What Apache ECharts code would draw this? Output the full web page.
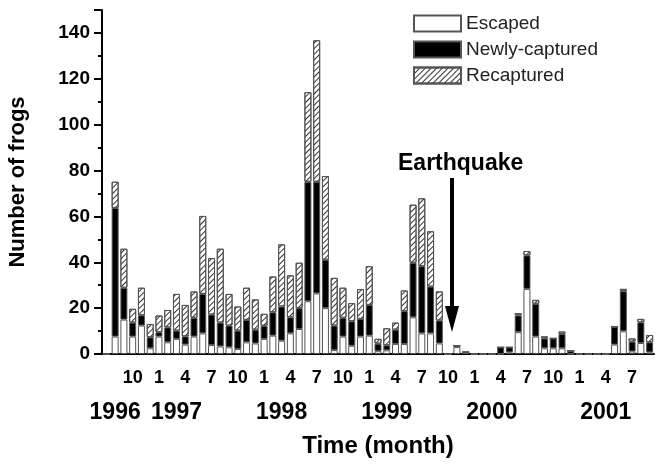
<!DOCTYPE html>
<html>
<head>
<meta charset="utf-8">
<script src="https://cdn.jsdelivr.net/npm/echarts@6/dist/echarts.min.js"></script>
<style>
  html, body { margin: 0; padding: 0; background: #fff; }
  #chart { width: 663px; height: 465px; }
</style>
</head>
<body>
<div id="chart"></div>
<script>
// one category per month, Jul 1996 .. Sep 2001
const months = [
  '1996-07', '1996-08', '1996-09', '1996-10', '1996-11', '1996-12',
  '1997-01', '1997-02', '1997-03', '1997-04', '1997-05', '1997-06',
  '1997-07', '1997-08', '1997-09', '1997-10', '1997-11', '1997-12',
  '1998-01', '1998-02', '1998-03', '1998-04', '1998-05', '1998-06',
  '1998-07', '1998-08', '1998-09', '1998-10', '1998-11', '1998-12',
  '1999-01', '1999-02', '1999-03', '1999-04', '1999-05', '1999-06',
  '1999-07', '1999-08', '1999-09', '1999-10', '1999-11', '1999-12',
  '2000-01', '2000-02', '2000-03', '2000-04', '2000-05', '2000-06',
  '2000-07', '2000-08', '2000-09', '2000-10', '2000-11', '2000-12',
  '2001-01', '2001-02', '2001-03', '2001-04', '2001-05', '2001-06',
  '2001-07', '2001-08', '2001-09'
]

const escaped = [
  0, 7.6, 15, 7.6, 12.4, 2.5,
  7.6, 5.1, 6.6, 4.1, 7.6, 9.0,
  3.9, 3.3, 2.9, 2.2, 5.1, 4.6,
  6.6, 8.0, 5.8, 9.0, 10.9, 23.0,
  26.4, 20.0, 1.7, 7.6, 3.6, 7.6,
  8.0, 1.2, 1.6, 4.4, 4.4, 16.0,
  9.0, 9.0, 4.6, 0, 3.0, 0.8,
  0, 0, 0, 0, 0.7, 9.5,
  28.4, 7.6, 2.5, 2.5, 2.5, 0,
  0, 0, 0, 0, 4.1, 9.9,
  1.1, 4.8, 0.7
]

const newlyCaptured = [
  0, 56.1, 13.9, 6.1, 4.5, 4.8,
  1.9, 6.5, 3.6, 3.6, 8.2, 17.2,
  13.3, 10.4, 9.5, 8.0, 9.8, 6.0,
  5.7, 10.2, 14.9, 7.0, 9.1, 52.1,
  48.7, 21.1, 10.7, 8.2, 10.7, 7.7,
  13.4, 3.3, 2.2, 6.2, 14.3, 23.8,
  29.3, 20.4, 10.0, 0, 0.6, 0,
  0, 0, 0, 2.9, 2.2, 7.3,
  14.6, 14.3, 4.3, 4.3, 6.2, 1.4,
  0, 0, 0, 0, 7.8, 17.5,
  4.3, 9.0, 4.4
]

const recaptured = [
  0, 11.4, 17.0, 6.0, 12.0, 5.8,
  7.3, 7.6, 16.0, 13.7, 11.5, 34.0,
  24.6, 32.2, 13.8, 10.5, 14.0, 13.2,
  5.2, 15.6, 27.1, 18.3, 19.8, 39.1,
  61.7, 36.5, 20.8, 13.1, 7.9, 13.0,
  16.9, 2.1, 7.4, 3.1, 9.0, 25.3,
  29.6, 24.1, 12.7, 0, 0, 0,
  0, 0, 0, 0, 0, 1.0,
  1.9, 1.7, 0.9, 0, 1.1, 0,
  0, 0, 0, 0, 0, 1.0,
  1.4, 1.5, 3.2
]

// year captions and the month they sit under
const yearLabels = {
  '1996-08': '1996',
  '1997-03': '1997',
  '1998-03': '1998',
  '1999-03': '1999',
  '2000-03': '2000',
  '2001-04': '2001'
}

const chart = echarts.init(document.getElementById('chart'), null, { renderer: 'canvas' })

const barBase = {
  type: 'bar',
  stack: 'frogs',
  barWidth: 7,
  xAxisIndex: 0
}

chart.setOption({
  animation: false,
  backgroundColor: '#fff',
  textStyle: { fontFamily: 'Liberation Sans, Arial, sans-serif' },
  grid: { left: 102, right: 9, top: 10, bottom: 111, containLabel: false, outerBoundsMode: 'none' },
  legend: {
    orient: 'vertical',
    left: 408,
    top: 9,
    itemWidth: 47,
    itemHeight: 16,
    itemGap: 7,
    icon: 'rect',
    textStyle: { fontSize: 19, color: '#222', fontFamily: 'Liberation Sans, Arial, sans-serif' },
    data: ['Escaped', 'Newly-captured', 'Recaptured']
  },
  xAxis: [
    {
      type: 'category',
      data: months,
      boundaryGap: true,
      name: 'Time (month)',
      nameLocation: 'middle',
      nameGap: 80,
      nameTextStyle: { fontSize: 24, fontWeight: 'bold', color: '#000' },
      axisLine: { lineStyle: { color: '#000', width: 2 } },
      axisTick: {
        length: 7,
        interval: function(i) { return i % 3 === 2 },
        lineStyle: { color: '#000', width: 2 }
      },
      axisLabel: {
        interval: function(i) { return i > 0 && i % 3 === 0 },
        formatter: function(v) { return String(parseInt(v.slice(5), 10)) },
        margin: 15,
        fontSize: 18,
        fontWeight: 'bold',
        color: '#000'
      },
      splitLine: { show: false }
    },
    {
      type: 'category',
      data: months,
      position: 'bottom',
      axisLine: { show: false },
      axisTick: { show: false },
      axisLabel: {
        interval: function(i, v) { return !!yearLabels[v] },
        formatter: function(v) { return yearLabels[v] || '' },
        margin: 47,
        fontSize: 23,
        fontWeight: 'bold',
        color: '#000'
      },
      splitLine: { show: false }
    }
  ],
  yAxis: {
    type: 'value',
    min: 0,
    max: 150,
    interval: 20,
    name: 'Number of frogs',
    nameLocation: 'middle',
    nameGap: 73,
    nameRotate: 90,
    nameTextStyle: { fontSize: 22, fontWeight: 'bold', color: '#000' },
    axisLine: { show: true, lineStyle: { color: '#000', width: 2 } },
    axisTick: { show: true, length: 8, lineStyle: { color: '#000', width: 2 } },
    minorTick: { show: true, splitNumber: 2, length: 4, lineStyle: { color: '#000', width: 2 } },
    axisLabel: {
      margin: 12,
      fontSize: 19,
      fontWeight: 'bold',
      color: '#000',
      showMaxLabel: false
    },
    splitLine: { show: false }
  },
  graphic: [
    {
      type: 'text',
      left: 398,
      top: 152,
      style: { text: 'Earthquake', font: 'bold 23px Liberation Sans, Arial, sans-serif', fill: '#000' }
    },
    {
      type: 'line',
      shape: { x1: 452, y1: 178, x2: 452, y2: 310 },
      style: { stroke: '#000', lineWidth: 4 }
    },
    {
      type: 'polygon',
      shape: { points: [[445, 306], [459, 306], [452, 332]] },
      style: { fill: '#000' }
    }
  ],
  series: [
    Object.assign({}, barBase, {
      name: 'Escaped',
      data: escaped,
      itemStyle: { color: '#fff', borderColor: '#555', borderWidth: 1 }
    }),
    Object.assign({}, barBase, {
      name: 'Newly-captured',
      data: newlyCaptured,
      itemStyle: { color: '#000', borderColor: '#555', borderWidth: 1 }
    }),
    Object.assign({}, barBase, {
      name: 'Recaptured',
      data: recaptured,
      itemStyle: {
        color: '#fff',
        borderColor: '#555',
        borderWidth: 1,
        decal: {
          symbol: 'rect',
          symbolSize: 1,
          dashArrayX: [1, 0],
          dashArrayY: [1, 3],
          rotation: -Math.PI / 4,
          color: '#333'
        }
      }
    })
  ]
})
</script>
</body>
</html>
